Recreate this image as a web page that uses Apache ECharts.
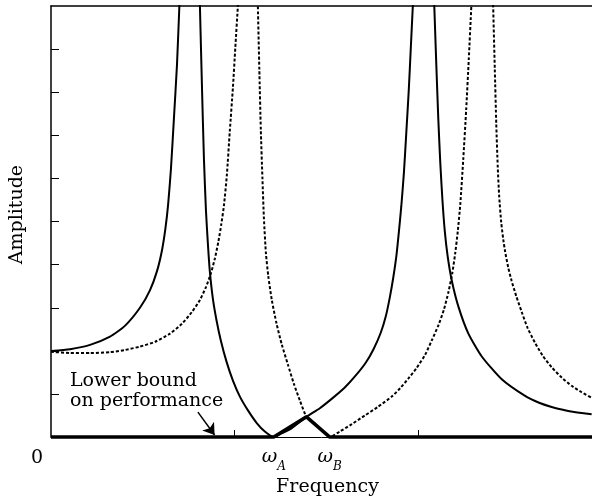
<!DOCTYPE html>
<html>
<head>
<meta charset="utf-8">
<script src="https://cdn.jsdelivr.net/npm/echarts@6/dist/echarts.min.js"></script>
<style>
html,body{margin:0;padding:0;background:#fff;}
#c{width:592px;height:502px;}
</style>
</head>
<body>
<div id="c"></div>
<script>
// Solid curve: frequency (x) and amplitude (y) readings
var solidX = [0, 0.104, 0.213, 0.322, 0.403, 0.485, 0.540, 0.578, 0.605, 0.624, 0.639, 0.654, 0.670, 0.687, 0.700, 0.729,
  0.795, 0.812, 0.823, 0.834, 0.845, 0.856, 0.866, 0.883, 0.903, 0.926, 0.957, 0.992, 1.030, 1.074, 1.123, 1.166, 1.215,
  1.259, 1.313, 1.393, 1.466, 1.537, 1.602, 1.662, 1.717, 1.760, 1.798, 1.826, 1.847, 1.866, 1.883, 1.896, 1.910, 1.924, 1.937, 1.951, 1.962, 1.973, 2.008,
  2.066, 2.090, 2.101, 2.112, 2.123, 2.134, 2.147, 2.163, 2.185, 2.222, 2.276, 2.349, 2.458, 2.583, 2.665, 2.730, 2.828, 2.948];
var solidY = [2.00, 2.04, 2.14, 2.33, 2.58, 3.00, 3.41, 3.85, 4.33, 4.84, 5.41, 6.22, 7.37, 8.64, 10.00, 13.0,
  13.0, 10.00, 8.16, 6.45, 5.25, 4.45, 3.85, 3.20, 2.70, 2.24, 1.75, 1.31, 0.94, 0.62, 0.32, 0.13, 0,
  0.09, 0.21, 0.47, 0.67, 0.91, 1.15, 1.43, 1.73, 2.05, 2.42, 2.81, 3.23, 3.69, 4.19, 4.72, 5.35, 6.11, 7.03, 8.06, 9.03, 10.00, 13.0,
  13.0, 10.00, 8.64, 7.37, 6.34, 5.53, 4.79, 4.19, 3.64, 3.02, 2.40, 1.87, 1.34, 0.96, 0.79, 0.70, 0.60, 0.53];
// Dotted curve
var dotX = [0, 0.104, 0.213, 0.322, 0.403, 0.485, 0.567, 0.649, 0.714, 0.768, 0.812, 0.845, 0.872, 0.894, 0.913, 0.929, 0.943, 0.959, 0.975, 0.992, 1.005, 1.019, 1.060,
  1.112, 1.128, 1.136, 1.144, 1.153, 1.161, 1.172, 1.185, 1.204, 1.230, 1.259, 1.292, 1.324, 1.357, 1.393, 1.428, 1.466, 1.499, 1.520,
  1.575, 1.640, 1.711, 1.782, 1.858, 1.905, 1.949, 1.993, 2.040, 2.076, 2.113, 2.142, 2.167, 2.188, 2.204, 2.218, 2.232, 2.248, 2.264, 2.278, 2.292, 2.324,
  2.395, 2.411, 2.420, 2.428, 2.436, 2.444, 2.455, 2.466, 2.476, 2.493, 2.512, 2.537, 2.567, 2.599, 2.639, 2.681, 2.730, 2.785, 2.839, 2.894, 2.948];
var dotY = [1.98, 1.95, 1.95, 1.97, 2.02, 2.10, 2.21, 2.40, 2.63, 2.90, 3.18, 3.48, 3.80, 4.15, 4.54, 4.95, 5.37, 6.08, 7.10, 8.11, 9.03, 10.00, 13.0,
  13.0, 10.00, 8.53, 7.14, 5.99, 5.07, 4.26, 3.73, 3.18, 2.63, 2.14, 1.68, 1.24, 0.85, 0.47, 0.35, 0.20, 0.08, 0,
  0.13, 0.30, 0.50, 0.70, 0.94, 1.14, 1.36, 1.60, 1.91, 2.24, 2.60, 2.95, 3.36, 3.80, 4.26, 4.77, 5.41, 6.45, 7.60, 8.76, 10.00, 13.0,
  13.0, 10.00, 8.53, 7.26, 6.27, 5.58, 4.98, 4.59, 4.31, 3.94, 3.62, 3.27, 2.90, 2.53, 2.19, 1.89, 1.62, 1.38, 1.19, 1.04, 0.91];
// Lower bound on performance
var boundX = [0, 1.215, 1.393, 1.520, 2.95];
var boundY = [0, 0, 0.47, 0, 0];
// Special frequencies and ticks
var omegaA = 1.215, omegaB = 1.520;
var xTicks = [1, 2];
var yTicks = [1, 2, 3, 4, 5, 6, 7, 8, 9];
// Arrow annotation (start, end)
var arrowFrom = [0.801, 0.58], arrowTo = [0.892, 0.05];

function zip(a, b) { return a.map(function (v, i) { return [v, b[i]]; }); }

var FONT = 'DejaVu Serif';
var FS = 19;
var chart = echarts.init(document.getElementById('c'), null, {renderer: 'canvas'});
chart.setOption({
  animation: false,
  backgroundColor: '#fff',
  grid: {left: 51, top: 6, right: 0, bottom: 62},
  xAxis: [{
    type: 'value', min: 0, max: 2.95, interval: 1,
    name: 'Frequency', nameLocation: 'middle', nameGap: 38,
    nameTextStyle: {fontFamily: FONT, fontSize: FS, color: '#000', padding: [0, 0, 0, 12]},
    axisLine: {show: true, onZero: false, lineStyle: {color: '#000', width: 1}},
    axisTick: {show: true, inside: true, length: 7, customValues: xTicks, lineStyle: {color: '#000', width: 1}},
    axisLabel: {
      show: true, margin: 10, customValues: [0, omegaA, omegaB],
      formatter: function (v) {
        if (v === 0) return '{z|0}';
        if (Math.abs(v - omegaA) < 1e-6) return '{w|ω}{s|A}';
        return '{w|ω}{s|B}';
      },
      rich: {
        z: {fontFamily: FONT, fontSize: FS, color: '#000', padding: [0, 28, 0, 0], lineHeight: 22},
        w: {fontFamily: FONT, fontSize: FS, fontStyle: 'italic', color: '#000', verticalAlign: 'top', lineHeight: 20},
        s: {fontFamily: FONT, fontSize: 12, fontStyle: 'italic', color: '#000', verticalAlign: 'bottom', lineHeight: 26}
      }
    },
    splitLine: {show: false}
  }, {
    type: 'value', position: 'top', min: 0, max: 2.95,
    axisLine: {show: true, onZero: false, lineStyle: {color: '#000', width: 1.5}},
    axisTick: {show: false}, axisLabel: {show: false}, splitLine: {show: false}
  }],
  yAxis: {
    type: 'value', min: 0, max: 10, interval: 1,
    name: 'Amplitude', nameLocation: 'middle', nameGap: 24, nameRotate: 90,
    nameTextStyle: {fontFamily: FONT, fontSize: FS, color: '#000', padding: [0, 0, 0, 14]},
    axisLine: {show: true, onZero: false, lineStyle: {color: '#000', width: 1.5}},
    axisTick: {show: true, inside: true, length: 8, customValues: yTicks, lineStyle: {color: '#000', width: 1}},
    axisLabel: {show: false},
    splitLine: {show: false}
  },
  series: [{
    type: 'line', name: 'solid', data: zip(solidX, solidY), showSymbol: false, smooth: 0.2, clip: true,
    lineStyle: {color: '#000', width: 2}
  }, {
    type: 'line', name: 'dotted', data: zip(dotX, dotY), showSymbol: false, smooth: 0.2, clip: true,
    lineStyle: {color: '#000', width: 2, type: [3, 2]}
  }, {
    type: 'line', name: 'bound', data: zip(boundX, boundY), showSymbol: false, clip: false,
    lineStyle: {color: '#000', width: 3.5}, z: 5
  }, {
    type: 'lines', coordinateSystem: 'cartesian2d',
    data: [{coords: [arrowFrom, arrowTo]}],
    symbol: ['none', 'arrow'], symbolSize: [0, 11],
    lineStyle: {color: '#000', width: 1.5, opacity: 1}, z: 6
  }],
  graphic: [{
    type: 'text', left: 70, top: 371,
    style: {text: 'Lower bound\non performance', font: FS + 'px "DejaVu Serif"', fill: '#000', lineHeight: 20}
  }]
});
</script>
</body>
</html>
